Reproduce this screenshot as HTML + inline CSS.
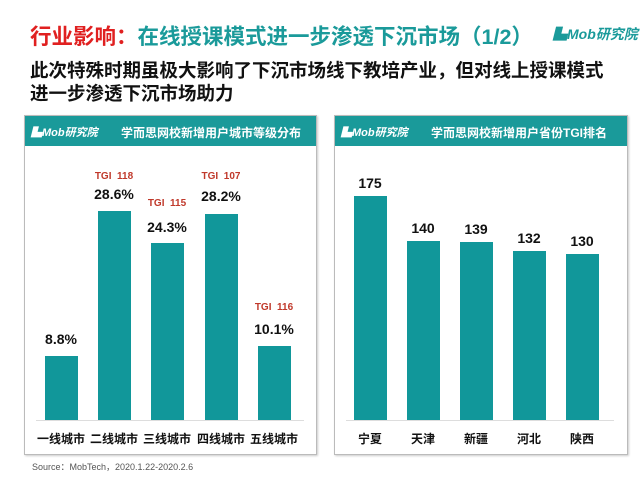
<!DOCTYPE html>
<html><head><meta charset="utf-8"><style>
body{margin:0;width:640px;height:480px;background:#fff;position:relative;overflow:hidden;font-family:"Liberation Sans","Noto Sans CJK SC",sans-serif}
.a{position:absolute}
.t{font-weight:bold;white-space:nowrap}
.panel{position:absolute;border:1px solid #bbb;background:#fff;box-shadow:1px 1px 2px #ccc}
.hdr{position:absolute;left:0;right:0;top:0;height:30px;background:#1a9a9a;color:#fff;font-size:12px;font-weight:bold}
.bar{position:absolute;background:#11979a}
.v{position:absolute;font-size:14px;font-weight:bold;color:#111;text-align:center;width:60px}
.g{position:absolute;font-size:10px;font-weight:bold;color:#c0392b;text-align:center;width:60px}
.x{position:absolute;font-size:12px;font-weight:bold;color:#111;text-align:center;width:60px;top:430px}
</style></head><body>
<div class="a t" style="left:30px;top:20px;font-size:21.5px;color:#e02020">行业影响：<span style="color:#1a9a9a">在线授课模式进一步渗透下沉市场（1/2）</span></div>
<div class="a t" style="left:553px;top:24px;font-size:14px;color:#1a9a9a;font-style:italic">▙Mob研究院</div>
<div class="a t" style="left:30px;top:59px;font-size:18.5px;color:#111;line-height:23px">此次特殊时期虽极大影响了下沉市场线下教培产业，但对线上授课模式<br>进一步渗透下沉市场助力</div>
<div class="panel" style="left:24px;top:115px;width:291px;height:338px"><div class="hdr"><span style="position:absolute;left:6px;top:8px;font-style:italic;font-size:11px">▙Mob研究院</span><span style="position:absolute;left:96px;top:8px">学而思网校新增用户城市等级分布</span></div></div>
<div class="panel" style="left:334px;top:115px;width:292px;height:338px"><div class="hdr"><span style="position:absolute;left:6px;top:8px;font-style:italic;font-size:11px">▙Mob研究院</span><span style="position:absolute;left:96px;top:8px">学而思网校新增用户省份TGI排名</span></div></div>
<div class="a" style="left:36px;top:420px;width:268px;height:1px;background:#ddd"></div>
<div class="a" style="left:346px;top:420px;width:268px;height:1px;background:#ddd"></div>

<div class="bar" style="left:45px;top:356px;width:33px;height:64px"></div>
<div class="bar" style="left:98px;top:211px;width:33px;height:209px"></div>
<div class="bar" style="left:151px;top:243px;width:33px;height:177px"></div>
<div class="bar" style="left:205px;top:214px;width:33px;height:206px"></div>
<div class="bar" style="left:258px;top:346px;width:33px;height:74px"></div>
<div class="v" style="left:31px;top:331px">8.8%</div>
<div class="v" style="left:84px;top:186px">28.6%</div>
<div class="v" style="left:137px;top:219px">24.3%</div>
<div class="v" style="left:191px;top:188px">28.2%</div>
<div class="v" style="left:244px;top:321px">10.1%</div>
<div class="g" style="left:84px;top:171px">TGI &nbsp;118</div>
<div class="g" style="left:137px;top:198px">TGI &nbsp;115</div>
<div class="g" style="left:191px;top:171px">TGI &nbsp;107</div>
<div class="g" style="left:244px;top:302px">TGI &nbsp;116</div>
<div class="x" style="left:31px">一线城市</div>
<div class="x" style="left:84px">二线城市</div>
<div class="x" style="left:137px">三线城市</div>
<div class="x" style="left:191px">四线城市</div>
<div class="x" style="left:244px">五线城市</div>

<div class="bar" style="left:354px;top:196px;width:33px;height:224px"></div>
<div class="bar" style="left:407px;top:241px;width:33px;height:179px"></div>
<div class="bar" style="left:460px;top:242px;width:33px;height:178px"></div>
<div class="bar" style="left:513px;top:251px;width:33px;height:169px"></div>
<div class="bar" style="left:566px;top:254px;width:33px;height:166px"></div>
<div class="v" style="left:340px;top:175px">175</div>
<div class="v" style="left:393px;top:220px">140</div>
<div class="v" style="left:446px;top:221px">139</div>
<div class="v" style="left:499px;top:230px">132</div>
<div class="v" style="left:552px;top:233px">130</div>
<div class="x" style="left:340px">宁夏</div>
<div class="x" style="left:393px">天津</div>
<div class="x" style="left:446px">新疆</div>
<div class="x" style="left:499px">河北</div>
<div class="x" style="left:552px">陕西</div>
<div class="a" style="left:32px;top:460px;font-size:9px;color:#555">Source：MobTech，2020.1.22-2020.2.6</div>
</body></html>
